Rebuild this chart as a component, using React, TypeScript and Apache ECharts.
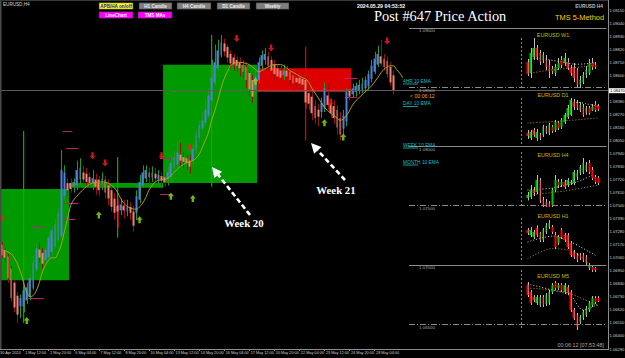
import React, { useEffect, useRef } from "react";
import * as echarts from "echarts";

// ---------- main price scale (values are stored as prices, plotted as price - BASE) ----------
const BASE = 1.0629;
const PRICE_STEP = 0.0011;
const PRICE_SPAN = 0.0294556;
const N_CATS = 195;

// ---------- time axis ----------
const TICK_EVERY = 8;
const TICK_LABELS = [
  "30 Apr 2024", "1 May 12:00", "2 May 20:00", "6 May 04:00", "7 May 12:00", "8 May 20:00",
  "10 May 04:00", "13 May 12:00", "14 May 20:00", "16 May 04:00", "17 May 12:00", "20 May 20:00",
  "22 May 04:00", "23 May 12:00", "24 May 20:00", "28 May 04:00",
];

// ---------- H4 averaged price bars: [open, close, low, high] ----------
const H4_BARS = [
  [1.0718, 1.0713, 1.0711, 1.0721], [1.0717, 1.0708, 1.0706, 1.0719], [1.0712, 1.0706, 1.0702, 1.0714],
  [1.0707, 1.0689, 1.0685, 1.0709], [1.0697, 1.0672, 1.0669, 1.0699], [1.0685, 1.0664, 1.0660, 1.0687],
  [1.0674, 1.0658, 1.0651, 1.0677], [1.0665, 1.0672, 1.0655, 1.0675], [1.0665, 1.0679, 1.0660, 1.0682],
  [1.0670, 1.0681, 1.0667, 1.0685], [1.0673, 1.0689, 1.0670, 1.0692], [1.0680, 1.0702, 1.0679, 1.0708],
  [1.0696, 1.0714, 1.0694, 1.0718], [1.0713, 1.0706, 1.0702, 1.0719], [1.0710, 1.0701, 1.0697, 1.0714],
  [1.0704, 1.0713, 1.0700, 1.0717], [1.0706, 1.0723, 1.0704, 1.0728], [1.0711, 1.0729, 1.0708, 1.0733],
  [1.0716, 1.0734, 1.0714, 1.0739], [1.0721, 1.0744, 1.0719, 1.0748], [1.0724, 1.0780, 1.0723, 1.0797],
  [1.0758, 1.0778, 1.0755, 1.0784], [1.0769, 1.0763, 1.0758, 1.0773], [1.0769, 1.0764, 1.0761, 1.0773],
  [1.0766, 1.0770, 1.0761, 1.0773], [1.0767, 1.0780, 1.0763, 1.0788], [1.0772, 1.0782, 1.0768, 1.0790],
  [1.0778, 1.0772, 1.0767, 1.0784], [1.0777, 1.0770, 1.0766, 1.0782], [1.0774, 1.0769, 1.0765, 1.0778],
  [1.0769, 1.0773, 1.0763, 1.0780], [1.0772, 1.0766, 1.0759, 1.0777], [1.0772, 1.0763, 1.0758, 1.0775],
  [1.0768, 1.0773, 1.0763, 1.0778], [1.0772, 1.0761, 1.0756, 1.0775], [1.0767, 1.0756, 1.0750, 1.0772],
  [1.0763, 1.0749, 1.0745, 1.0767], [1.0756, 1.0744, 1.0738, 1.0761], [1.0750, 1.0745, 1.0731, 1.0756],
  [1.0746, 1.0751, 1.0742, 1.0756], [1.0750, 1.0746, 1.0739, 1.0755], [1.0745, 1.0749, 1.0741, 1.0755],
  [1.0749, 1.0744, 1.0738, 1.0753], [1.0745, 1.0733, 1.0728, 1.0750], [1.0744, 1.0758, 1.0738, 1.0763],
  [1.0755, 1.0770, 1.0752, 1.0776], [1.0767, 1.0778, 1.0765, 1.0784], [1.0773, 1.0780, 1.0770, 1.0784],
  [1.0778, 1.0774, 1.0769, 1.0782], [1.0774, 1.0778, 1.0770, 1.0783], [1.0777, 1.0773, 1.0769, 1.0782],
  [1.0772, 1.0776, 1.0768, 1.0780], [1.0775, 1.0771, 1.0767, 1.0778], [1.0774, 1.0770, 1.0766, 1.0778],
  [1.0772, 1.0778, 1.0767, 1.0783], [1.0774, 1.0786, 1.0770, 1.0793], [1.0782, 1.0791, 1.0778, 1.0797],
  [1.0785, 1.0795, 1.0782, 1.0805], [1.0793, 1.0788, 1.0783, 1.0803], [1.0791, 1.0787, 1.0782, 1.0795],
  [1.0790, 1.0786, 1.0780, 1.0793], [1.0788, 1.0783, 1.0777, 1.0793], [1.0788, 1.0798, 1.0785, 1.0802],
  [1.0797, 1.0810, 1.0795, 1.0814], [1.0807, 1.0818, 1.0804, 1.0822], [1.0815, 1.0822, 1.0812, 1.0829],
  [1.0820, 1.0831, 1.0817, 1.0839], [1.0826, 1.0843, 1.0824, 1.0849], [1.0839, 1.0858, 1.0837, 1.0873],
  [1.0854, 1.0871, 1.0852, 1.0886], [1.0866, 1.0881, 1.0863, 1.0890], [1.0877, 1.0888, 1.0875, 1.0894],
  [1.0887, 1.0880, 1.0876, 1.0891], [1.0884, 1.0875, 1.0871, 1.0886], [1.0878, 1.0870, 1.0866, 1.0881],
  [1.0875, 1.0869, 1.0864, 1.0878], [1.0873, 1.0868, 1.0863, 1.0876], [1.0871, 1.0866, 1.0859, 1.0875],
  [1.0869, 1.0863, 1.0858, 1.0873], [1.0867, 1.0856, 1.0849, 1.0871], [1.0862, 1.0848, 1.0842, 1.0866],
  [1.0856, 1.0842, 1.0837, 1.0860], [1.0848, 1.0859, 1.0844, 1.0864], [1.0856, 1.0871, 1.0853, 1.0875],
  [1.0868, 1.0877, 1.0864, 1.0881], [1.0873, 1.0878, 1.0869, 1.0883], [1.0876, 1.0868, 1.0864, 1.0880],
  [1.0873, 1.0864, 1.0861, 1.0876], [1.0869, 1.0861, 1.0856, 1.0873], [1.0866, 1.0859, 1.0851, 1.0869],
  [1.0864, 1.0858, 1.0854, 1.0868], [1.0860, 1.0864, 1.0856, 1.0869], [1.0864, 1.0859, 1.0854, 1.0868],
  [1.0863, 1.0856, 1.0851, 1.0866], [1.0860, 1.0853, 1.0846, 1.0864], [1.0858, 1.0854, 1.0849, 1.0863],
  [1.0858, 1.0853, 1.0848, 1.0861], [1.0857, 1.0852, 1.0846, 1.0861], [1.0856, 1.0837, 1.0832, 1.0859],
  [1.0845, 1.0836, 1.0831, 1.0848], [1.0842, 1.0828, 1.0822, 1.0846], [1.0834, 1.0824, 1.0819, 1.0839],
  [1.0831, 1.0825, 1.0817, 1.0836], [1.0829, 1.0837, 1.0824, 1.0841], [1.0832, 1.0849, 1.0829, 1.0854],
  [1.0843, 1.0835, 1.0831, 1.0852], [1.0836, 1.0828, 1.0824, 1.0841], [1.0834, 1.0824, 1.0819, 1.0839],
  [1.0831, 1.0816, 1.0810, 1.0835], [1.0824, 1.0810, 1.0805, 1.0829], [1.0815, 1.0826, 1.0810, 1.0831],
  [1.0821, 1.0846, 1.0817, 1.0849], [1.0848, 1.0842, 1.0839, 1.0852], [1.0844, 1.0849, 1.0841, 1.0853],
  [1.0846, 1.0851, 1.0842, 1.0854], [1.0847, 1.0852, 1.0844, 1.0856], [1.0848, 1.0853, 1.0845, 1.0858],
  [1.0849, 1.0856, 1.0846, 1.0859], [1.0851, 1.0861, 1.0848, 1.0864], [1.0857, 1.0868, 1.0854, 1.0873],
  [1.0863, 1.0874, 1.0861, 1.0880], [1.0869, 1.0878, 1.0867, 1.0885], [1.0876, 1.0870, 1.0868, 1.0890],
  [1.0874, 1.0867, 1.0864, 1.0878], [1.0872, 1.0861, 1.0858, 1.0876], [1.0867, 1.0854, 1.0851, 1.0871],
  [1.0860, 1.0847, 1.0844, 1.0864],
];

// ---------- H4 10 EMA (read at bar indices) ----------
const EMA_IDX = [0, 3, 5, 7, 8, 9, 10, 11, 12, 13, 14, 15, 16, 17, 18, 19, 20, 21, 22, 23, 24, 25, 26, 28, 30, 33, 35, 36, 37, 38, 39, 40, 42, 44, 45, 46, 47, 48, 49, 50, 52, 54, 56, 58, 60, 62, 63, 64, 65, 66, 67, 68, 69, 70, 71, 72, 73, 74, 75, 77, 79, 80, 82, 83, 84, 86, 88, 90, 91, 93, 95, 97, 98, 99, 100, 101, 102, 103, 104, 106, 108, 109, 110, 111, 112, 113, 115, 117, 119, 121, 122, 123, 124, 125, 126, 127, 128, 129];
const EMA_VAL = [1.0713, 1.0711, 1.0706, 1.0694, 1.0685, 1.0677, 1.0673, 1.0674, 1.0678, 1.0685, 1.0694, 1.0700, 1.0704, 1.0706, 1.0706, 1.0710, 1.0717, 1.0728, 1.0739, 1.0750, 1.0755, 1.0758, 1.0761, 1.0766, 1.0769, 1.0770, 1.0769, 1.0767, 1.0765, 1.0761, 1.0756, 1.0752, 1.0748, 1.0747, 1.0749, 1.0752, 1.0757, 1.0763, 1.0767, 1.0770, 1.0772, 1.0773, 1.0778, 1.0783, 1.0786, 1.0788, 1.0790, 1.0793, 1.0799, 1.0805, 1.0812, 1.0822, 1.0830, 1.0839, 1.0849, 1.0857, 1.0863, 1.0868, 1.0870, 1.0871, 1.0870, 1.0869, 1.0865, 1.0863, 1.0864, 1.0867, 1.0869, 1.0869, 1.0868, 1.0864, 1.0861, 1.0858, 1.0857, 1.0854, 1.0849, 1.0845, 1.0841, 1.0837, 1.0833, 1.0828, 1.0824, 1.0822, 1.0823, 1.0826, 1.0830, 1.0835, 1.0841, 1.0846, 1.0851, 1.0858, 1.0862, 1.0865, 1.0867, 1.0868, 1.0868, 1.0865, 1.0862, 1.0858];

// ---------- weekly candle bodies overlaid on H4 ----------
const WEEK_START = [0, 23, 53, 83];
const WEEK_END = [22, 52, 82, 112];
const WEEK_WICK_AT = [8, 38, 68, 98];
const WEEK_OPEN = [1.0687, 1.0765, 1.0769, 1.0866];
const WEEK_CLOSE = [1.0764, 1.0769, 1.0869, 1.0846];
const WEEK_HIGH = [1.0813, 1.0791, 1.0894, 1.0884];
const WEEK_LOW = [1.0651, 1.0723, 1.0766, 1.0805];

// ---------- signal arrows ----------
const RED_ARROW_IDX = [1, 30, 34, 52, 61, 76, 87, 106, 124];
const RED_ARROW_PRICE = [1.0739, 1.0792, 1.0786, 1.0792, 1.0799, 1.0891, 1.0883, 1.0837, 1.0889];
const GREEN_ARROW_IDX = [9, 32, 45, 55, 62, 82, 104, 110];
const GREEN_ARROW_PRICE = [1.0653, 1.0742, 1.0738, 1.0758, 1.0756, 1.0855, 1.0820, 1.0808];

// ---------- short level markers ----------
const MARK_START = [21, 22, 21, 22, 11, 10, 52, 52, 111, 111];
const MARK_END = [23, 25, 24, 25, 14, 14, 55, 55, 114, 114];
const MARK_PRICE = [1.0813, 1.0799, 1.0739, 1.0752, 1.0733, 1.0672, 1.0790, 1.0760, 1.0858, 1.0842];

// ---------- levels ----------
const BID = 1.0847;
const HIDDEN_AXIS_LABEL = 1.0849; // covered by the bid tag
const ROUND_LEVELS = [1.09, 1.085, 1.08, 1.075, 1.07, 1.065];
const EMA_TAGS = ["4HR 10 EMA", "DAY 10 EMA", "WEEK 10 EMA", "MONTH 10 EMA"];

// ---------- mini charts ----------
const MINI_TITLES = ["EURUSD W1", "EURUSD D1", "EURUSD H4", "EURUSD H1", "EURUSD M5"];
const MINI_MIN = [1.06, 1.06075, 1.0802, 1.083, 1.0835];
const MINI_MAX = [1.1, 1.09, 1.09, 1.08924, 1.086];
const W1_BARS = [
  [1.0808, 1.0712, 1.0696, 1.0832], [1.0720, 1.0880, 1.0680, 1.0920], [1.0848, 1.0920, 1.0824, 1.1000],
  [1.0920, 1.0848, 1.0824, 1.0944], [1.0880, 1.0808, 1.0784, 1.0904], [1.0824, 1.0864, 1.0800, 1.0888],
  [1.0824, 1.0768, 1.0744, 1.0864], [1.0784, 1.0728, 1.0680, 1.0824], [1.0752, 1.0736, 1.0712, 1.0776],
  [1.0720, 1.0768, 1.0696, 1.0792], [1.0760, 1.0800, 1.0744, 1.0840], [1.0824, 1.0784, 1.0760, 1.0856],
  [1.0800, 1.0840, 1.0776, 1.0880], [1.0808, 1.0760, 1.0744, 1.0840], [1.0760, 1.0720, 1.0696, 1.0784],
  [1.0768, 1.0680, 1.0648, 1.0800], [1.0744, 1.0624, 1.0600, 1.0760], [1.0624, 1.0664, 1.0600, 1.0696],
  [1.0648, 1.0704, 1.0632, 1.0728], [1.0704, 1.0744, 1.0680, 1.0776], [1.0720, 1.0800, 1.0704, 1.0832],
  [1.0800, 1.0768, 1.0744, 1.0840], [1.0784, 1.0768, 1.0752, 1.0808],
];
const D1_BARS = [
  [1.0673, 1.0653, 1.0634, 1.0692], [1.0640, 1.0679, 1.0627, 1.0692], [1.0692, 1.0660, 1.0647, 1.0705],
  [1.0640, 1.0679, 1.0621, 1.0699], [1.0660, 1.0640, 1.0627, 1.0673], [1.0660, 1.0712, 1.0647, 1.0725],
  [1.0705, 1.0679, 1.0666, 1.0718], [1.0673, 1.0725, 1.0660, 1.0738], [1.0712, 1.0686, 1.0673, 1.0725],
  [1.0692, 1.0744, 1.0679, 1.0757], [1.0738, 1.0705, 1.0692, 1.0750], [1.0712, 1.0757, 1.0699, 1.0770],
  [1.0744, 1.0790, 1.0731, 1.0802], [1.0777, 1.0835, 1.0764, 1.0854], [1.0790, 1.0887, 1.0783, 1.0900],
  [1.0874, 1.0842, 1.0822, 1.0893], [1.0868, 1.0835, 1.0822, 1.0887], [1.0822, 1.0855, 1.0809, 1.0874],
  [1.0842, 1.0790, 1.0777, 1.0861], [1.0803, 1.0835, 1.0790, 1.0848], [1.0835, 1.0803, 1.0790, 1.0848],
  [1.0822, 1.0842, 1.0816, 1.0861], [1.0855, 1.0822, 1.0809, 1.0880], [1.0848, 1.0829, 1.0816, 1.0861],
];
const H4M_BARS = [
  [1.0820, 1.0826, 1.0815, 1.0832], [1.0822, 1.0836, 1.0818, 1.0846], [1.0836, 1.0830, 1.0824, 1.0842],
  [1.0832, 1.0856, 1.0828, 1.0866], [1.0856, 1.0816, 1.0810, 1.0860], [1.0816, 1.0806, 1.0802, 1.0822],
  [1.0812, 1.0802, 1.0798, 1.0818], [1.0810, 1.0802, 1.0796, 1.0814], [1.0806, 1.0836, 1.0802, 1.0840],
  [1.0836, 1.0856, 1.0832, 1.0866], [1.0852, 1.0846, 1.0840, 1.0858], [1.0846, 1.0852, 1.0842, 1.0858],
  [1.0852, 1.0842, 1.0838, 1.0856], [1.0846, 1.0856, 1.0842, 1.0860], [1.0850, 1.0852, 1.0846, 1.0856],
  [1.0850, 1.0872, 1.0846, 1.0876], [1.0862, 1.0870, 1.0856, 1.0876], [1.0870, 1.0882, 1.0866, 1.0886],
  [1.0872, 1.0890, 1.0868, 1.0900], [1.0876, 1.0886, 1.0872, 1.0892], [1.0890, 1.0872, 1.0868, 1.0896],
  [1.0876, 1.0860, 1.0856, 1.0882], [1.0862, 1.0852, 1.0848, 1.0866], [1.0860, 1.0850, 1.0846, 1.0864],
];
const H1_BARS = [
  [1.08804, 1.08768, 1.08744, 1.08828], [1.08744, 1.08804, 1.0872, 1.0884], [1.0872, 1.0878, 1.08696, 1.08804],
  [1.08828, 1.08744, 1.0872, 1.0886], [1.08768, 1.08684, 1.0866, 1.0878], [1.08684, 1.08804, 1.0866, 1.08828],
  [1.0878, 1.08864, 1.08756, 1.08888], [1.0884, 1.08888, 1.08816, 1.08924], [1.0884, 1.0878, 1.08756, 1.08864],
  [1.08744, 1.086, 1.08576, 1.0878], [1.08648, 1.0872, 1.08624, 1.08744], [1.08804, 1.0872, 1.08696, 1.08828],
  [1.08744, 1.08684, 1.0866, 1.08768], [1.08744, 1.086, 1.08576, 1.08768], [1.08648, 1.08504, 1.0848, 1.08672],
  [1.0854, 1.0848, 1.08456, 1.08564], [1.08504, 1.08444, 1.0842, 1.08528], [1.08504, 1.08468, 1.08444, 1.08528],
  [1.08504, 1.08444, 1.0842, 1.08528], [1.0848, 1.08408, 1.08384, 1.08504], [1.08348, 1.08384, 1.08324, 1.08408],
  [1.0836, 1.08324, 1.083, 1.08384], [1.08348, 1.08324, 1.083, 1.0836],
];
const M5_BARS = [
  [1.08575, 1.08525, 1.08515, 1.0859], [1.0854, 1.08485, 1.08475, 1.0855], [1.08515, 1.085, 1.0849, 1.08525],
  [1.08485, 1.08515, 1.08475, 1.08525], [1.08475, 1.08515, 1.08465, 1.08525], [1.08515, 1.08475, 1.08465, 1.08525],
  [1.0848, 1.08525, 1.0847, 1.08535], [1.08485, 1.0854, 1.08475, 1.0855], [1.0854, 1.08575, 1.0853, 1.08585],
  [1.08585, 1.0856, 1.0855, 1.08595], [1.0856, 1.08575, 1.0855, 1.08585], [1.08575, 1.0855, 1.0854, 1.08585],
  [1.0854, 1.08575, 1.0853, 1.08585], [1.08565, 1.08535, 1.08525, 1.08575], [1.0854, 1.0845, 1.0844, 1.0855],
  [1.0845, 1.0841, 1.084, 1.0846], [1.08425, 1.08365, 1.0835, 1.08435], [1.0839, 1.08415, 1.0838, 1.08425],
  [1.0841, 1.0844, 1.084, 1.0845], [1.08425, 1.0846, 1.08415, 1.0847], [1.0845, 1.08485, 1.0844, 1.08495],
  [1.08475, 1.0851, 1.08465, 1.0852], [1.0851, 1.0849, 1.0848, 1.0852], [1.0851, 1.08495, 1.0849, 1.0852],
];
const MINI_BARS = [W1_BARS, D1_BARS, H4M_BARS, H1_BARS, M5_BARS];
// dotted moving averages in the mini charts: [index, price]
const MINI_MA_WHITE = [
  [[1, 1.0840], [6, 1.0830], [11, 1.0808], [16, 1.0790], [22, 1.0800]],
  [[13, 1.0850], [16, 1.0872], [19, 1.0862], [23, 1.0846]],
  [[0, 1.0836], [8, 1.0840], [16, 1.0852], [21, 1.0866]],
  [[0, 1.0866], [8, 1.0873], [14, 1.0866], [22, 1.0850]],
  [[0, 1.0858], [8, 1.0855], [14, 1.0852], [18, 1.0845], [23, 1.0848]],
];
const MINI_MA_ORANGE = [
  [[1, 1.0720], [8, 1.0745], [15, 1.0762], [22, 1.0784]],
  [[0, 1.0737], [12, 1.0752], [23, 1.0770]],
  [[1, 1.0826], [12, 1.0834], [23, 1.0846]],
  [[0, 1.0846], [8, 1.0858], [15, 1.0854], [22, 1.0832]],
  [[0, 1.0856], [12, 1.0854], [23, 1.0847]],
];

// ---------- styles ----------
const SANS = "'Liberation Sans', Arial, sans-serif";
const SERIF = "'Liberation Serif', 'Times New Roman', serif";
const BULL = "#4d7fdc";
const BEAR = "#f5806e";
const ARROW_DOWN = "path://M3,0L7,0L7,5L10,5L5,10L0,5L3,5Z";
const ARROW_UP = "path://M5,0L10,5L7,5L7,10L3,10L3,5L0,5Z";
const MINI_TOP = [38, 98, 158, 220, 280];
const MINI_H = [50, 45, 49, 52, 50];

function wickSeries(bars: number[][], axis: number, off: number, up: string, down: string, z: number) {
  return {
    type: "custom", xAxisIndex: axis, yAxisIndex: axis, z, silent: true, clip: true,
    data: bars.map((b, i) => [i, b[0] - off, b[1] - off, b[2] - off, b[3] - off]),
    encode: { x: 0, y: [1, 2, 3, 4] },
    renderItem: (_p: any, api: any) => {
      const i = api.value(0);
      const o = api.value(1), c = api.value(2);
      const top = api.coord([i, api.value(4)]);
      const bot = api.coord([i, api.value(3)]);
      const x = Math.round(top[0]) + 0.5;
      return { type: "line", shape: { x1: x, y1: top[1], x2: x, y2: bot[1] }, style: { stroke: c >= o ? up : down, lineWidth: 1 } };
    },
  };
}

function bodySeries(bars: number[][], axis: number, off: number, up: string, down: string, width: number, z: number) {
  return {
    type: "candlestick", xAxisIndex: axis, yAxisIndex: axis, z, silent: true, barWidth: width,
    data: bars.map((b) => [b[0] - off, b[1] - off, Math.min(b[0], b[1]) - off, Math.max(b[0], b[1]) - off]),
    itemStyle: { color: up, color0: down, borderColor: up, borderColor0: down, borderWidth: 0 },
  };
}

function buildOption() {
  const cats = Array.from({ length: N_CATS }, (_, i) => String(i));
  const miniCats = Array.from({ length: 24 }, (_, i) => String(i));
  const showTick = (i: number) => i % TICK_EVERY === 0 && i / TICK_EVERY < TICK_LABELS.length;

  const grid: any[] = [{ left: -3, right: 17, top: 0, bottom: 9, outerBoundsMode: "none" }];
  const xAxis: any[] = [{
    type: "category", gridIndex: 0, data: cats, boundaryGap: true,
    axisLine: { lineStyle: { color: "#8c8c8c", width: 1 } },
    axisTick: { show: true, alignWithLabel: true, interval: (i: number) => showTick(i), length: 2, lineStyle: { color: "#8c8c8c" } },
    axisLabel: {
      interval: (i: number) => showTick(i), formatter: (_v: string, i: number) => TICK_LABELS[i / TICK_EVERY] || "",
      fontSize: 3.8, color: "#cfcfcf", align: "left", margin: 2, padding: [0, 0, 0, 1.5], fontFamily: SANS,
    },
    splitLine: { show: false },
  }];
  const yAxis: any[] = [{
    type: "value", gridIndex: 0, position: "right", min: 0, max: PRICE_SPAN, interval: PRICE_STEP,
    axisLine: { show: true, lineStyle: { color: "#8c8c8c" } },
    axisTick: { show: true, length: 1, lineStyle: { color: "#8c8c8c" } },
    axisLabel: {
      formatter: (v: number) => {
        const p = v + BASE;
        return Math.abs(p - HIDDEN_AXIS_LABEL) < 1e-6 ? "" : p.toFixed(5);
      },
      fontSize: 4.1, color: "#cfcfcf", margin: 1.5, showMaxLabel: false, fontFamily: SANS,
    },
    splitLine: { show: false },
  }];
  MINI_TOP.forEach((t, k) => {
    grid.push({ left: 526, width: 74, top: t, height: MINI_H[k], outerBoundsMode: "none" });
    xAxis.push({ type: "category", gridIndex: k + 1, data: miniCats, show: false, boundaryGap: true });
    yAxis.push({ type: "value", gridIndex: k + 1, min: MINI_MIN[k], max: MINI_MAX[k], show: false, splitLine: { show: false } });
  });

  const series: any[] = [];
  // weekly bodies
  series.push({
    type: "custom", xAxisIndex: 0, yAxisIndex: 0, z: 1, silent: true, clip: true,
    data: WEEK_START.map((s, k) => [s, WEEK_END[k], WEEK_OPEN[k] - BASE, WEEK_CLOSE[k] - BASE, WEEK_HIGH[k] - BASE, WEEK_LOW[k] - BASE, WEEK_WICK_AT[k]]),
    encode: { x: [0, 1], y: [2, 3, 4, 5] },
    renderItem: (_p: any, api: any) => {
      const s = api.value(0), e = api.value(1), o = api.value(2), c = api.value(3);
      const bw = api.size([1, 0])[0];
      const a = api.coord([s, o]);
      const b = api.coord([e, c]);
      const x0 = a[0] - bw / 2, x1 = b[0] + bw / 2;
      const bull = c >= o;
      const wt = api.coord([api.value(6), api.value(4)]);
      const wb = api.coord([api.value(6), api.value(5)]);
      return {
        type: "group", children: [
          { type: "rect", shape: { x: x0, y: Math.min(a[1], b[1]), width: x1 - x0, height: Math.max(2, Math.abs(a[1] - b[1])) }, style: { fill: bull ? "#009a00" : "#dc0000" } },
          { type: "line", shape: { x1: wt[0], y1: wt[1], x2: wb[0], y2: wb[1] }, style: { stroke: bull ? "#00b400" : "#e80000", lineWidth: 1.2 } },
        ],
      };
    },
  });
  // level markers
  series.push({
    type: "custom", xAxisIndex: 0, yAxisIndex: 0, z: 2, silent: true, clip: true,
    data: MARK_START.map((s, k) => [s, MARK_END[k], MARK_PRICE[k] - BASE]),
    encode: { x: [0, 1], y: 2 },
    renderItem: (_p: any, api: any) => {
      const bw = api.size([1, 0])[0];
      const a = api.coord([api.value(0), api.value(2)]);
      const b = api.coord([api.value(1), api.value(2)]);
      const y = Math.round(a[1]) + 0.5;
      return { type: "line", shape: { x1: a[0] - bw / 2, y1: y, x2: b[0] + bw / 2, y2: y }, style: { stroke: "#b8206a", lineWidth: 1 } };
    },
  });
  series.push(wickSeries(H4_BARS, 0, BASE, "#1f9a1f", "#9a1010", 3));
  series.push(bodySeries(H4_BARS, 0, BASE, BULL, BEAR, 2.3, 4));

  const roundLines = ROUND_LEVELS.map((v, k) => [
    {
      coord: [131, v - BASE],
      lineStyle: { color: "#8a8a8a", width: 1, type: k % 2 === 0 ? "solid" : [6, 2, 1, 2] },
      label: { show: true, position: "insideStartBottom", formatter: v.toFixed(5), fontSize: 4.4, color: "#a8a8a8", padding: [0, 0, 0, 9], distance: 1, fontFamily: SANS },
    },
    { coord: [194, v - BASE] },
  ]);
  series.push({
    type: "line", xAxisIndex: 0, yAxisIndex: 0, z: 5, silent: true, smooth: 0.4, symbol: "none",
    data: EMA_IDX.map((i, k) => [i, EMA_VAL[k] - BASE]),
    lineStyle: { color: "#aaa31e", width: 1 },
    markLine: {
      silent: true, symbol: ["none", "none"], animation: false, precision: 8,
      data: [
        {
          yAxis: BID - BASE, lineStyle: { color: "#5c5c5c", width: 1, type: "solid" },
          label: { show: true, position: "end", formatter: BID.toFixed(5), backgroundColor: "#ffffff", color: "#000000", fontSize: 4.1, padding: [1, 1, 0, 1], distance: 1, fontFamily: SANS },
        },
        ...roundLines,
      ],
    },
  });
  series.push({
    type: "scatter", xAxisIndex: 0, yAxisIndex: 0, z: 6, silent: true, symbol: ARROW_DOWN, symbolSize: [6, 7],
    data: RED_ARROW_IDX.map((i, k) => [i, RED_ARROW_PRICE[k] - BASE]), itemStyle: { color: "#ff1c1c" },
  });
  series.push({
    type: "scatter", xAxisIndex: 0, yAxisIndex: 0, z: 6, silent: true, symbol: ARROW_UP, symbolSize: [6, 7],
    data: GREEN_ARROW_IDX.map((i, k) => [i, GREEN_ARROW_PRICE[k] - BASE]), itemStyle: { color: "#86e21e" },
  });

  MINI_BARS.forEach((bars, k) => {
    const ax = k + 1;
    series.push({
      type: "line", xAxisIndex: ax, yAxisIndex: ax, z: 2, silent: true, smooth: 0.3, symbol: "none",
      data: MINI_MA_ORANGE[k], lineStyle: { color: "#c89020", width: 1, type: [1, 2] },
    });
    series.push({
      type: "line", xAxisIndex: ax, yAxisIndex: ax, z: 2, silent: true, smooth: 0.3, symbol: "none",
      data: MINI_MA_WHITE[k], lineStyle: { color: "#d8d8d8", width: 1, type: [1, 2] },
    });
    series.push(wickSeries(bars, ax, 0, "#bdbdbd", "#bdbdbd", 3));
    series.push(bodySeries(bars, ax, 0, "#00c400", "#ff0000", 2.2, 4));
  });

  const txt = (text: string, x: number, y: number, size: number, fill: string, opts: any = {}) => ({
    type: "text", silent: true, z: 50,
    style: {
      text, x, y, fill, font: `${opts.bold ? "bold " : ""}${size}px ${opts.family || SANS}`,
      textAlign: opts.align || "left", align: opts.align || "left",
      textVerticalAlign: opts.valign || "middle", verticalAlign: opts.valign || "middle",
    },
  });
  const button = (label: string, x: number, y: number, w: number, bg: string, fg: string) => ({
    type: "group", silent: true, z: 50,
    children: [
      { type: "rect", shape: { x, y, width: w, height: 6.6 }, style: { fill: bg, stroke: "#2a2a2a", lineWidth: 0.6 } },
      { type: "text", style: { text: label, x: x + w / 2, y: y + 3.5, fill: fg, font: `bold 4.6px ${SANS}`, textAlign: "center", align: "center", textVerticalAlign: "middle", verticalAlign: "middle" } },
    ],
  });
  const dashedArrow = (tail: number[], tip: number[]) => {
    const dx = tip[0] - tail[0], dy = tip[1] - tail[1];
    const len = Math.hypot(dx, dy);
    const ux = dx / len, uy = dy / len;
    const bx = tip[0] - ux * 10, by = tip[1] - uy * 10;
    const nx = -uy, ny = ux;
    return [
      { type: "line", silent: true, z: 50, shape: { x1: tail[0], y1: tail[1], x2: bx, y2: by }, style: { stroke: "#ffffff", lineWidth: 2.6, lineDash: [5, 3] } },
      { type: "polygon", silent: true, z: 50, shape: { points: [tip, [bx + nx * 5, by + ny * 5], [bx - nx * 5, by - ny * 5]] }, style: { fill: "#ffffff" } },
    ];
  };

  const graphic: any[] = [
    { type: "rect", silent: true, z: 40, shape: { x: 0, y: 0, width: 1.5, height: 349 }, style: { fill: "#4a4a4a" } },
    { type: "rect", silent: true, z: 40, shape: { x: 0, y: 0, width: 608, height: 1 }, style: { fill: "#3a3a3a" } },
    txt("EURUSD,H4", 3, 4.5, 4.6, "#d8d8d8"),
    button("APB/HA on/off", 99, 2.7, 34, "#ffff00", "#1010d0"),
    button("H1 Candle", 139, 2.7, 33, "#7f7f7f", "#eeeeee"),
    button("H4 Candle", 177, 2.7, 34, "#7f7f7f", "#eeeeee"),
    button("D1 Candle", 217, 2.7, 33, "#7f7f7f", "#eeeeee"),
    button("Weekly", 256, 2.7, 33, "#7f7f7f", "#eeeeee"),
    button("LineChart", 99, 11.7, 34, "#ff00ff", "#ffffff"),
    button("TMS MAs", 138, 11.7, 34, "#ff00ff", "#ffffff"),
    txt("2024.05.29 04:53:52", 357, 5.5, 5.2, "#ffffff", { bold: true }),
    txt("Post #647 Price Action", 374, 15.5, 14.4, "#ffffff", { family: SERIF }),
    txt("EURUSD H4", 603, 6, 4.8, "#bdbdbd", { bold: true, align: "right" }),
    txt("TMS 5-Method", 604, 17, 7.4, "#ffd000", { align: "right" }),
    txt("Week 20", 244, 223, 10.8, "#ffffff", { bold: true, family: SERIF, align: "center" }),
    txt("Week 21", 336, 190, 10.8, "#ffffff", { bold: true, family: SERIF, align: "center" }),
    ...dashedArrow([250, 215], [212, 167]),
    ...dashedArrow([345, 180], [311, 143]),
    txt("< 00:06:12", 410, 95.5, 5.2, "#ff9a1a"),
    txt("00:06:12 [07:53:48]", 604, 345, 5.4, "#a8a8a8", { align: "right" }),
  ];
  const tagY = [81, 103.5, 145, 162];
  EMA_TAGS.forEach((t, k) => {
    graphic.push(txt(t, 403, tagY[k], 4.8, "#1fbfc0"));
    graphic.push({ type: "line", silent: true, z: 50, shape: { x1: 403, y1: tagY[k] + 3, x2: 418, y2: tagY[k] + 3 }, style: { stroke: "#1fbfc0", lineWidth: 0.8 } });
  });
  const vSeg = [[38, 88], [98, 145], [152, 207], [218, 262], [270, 328]];
  vSeg.forEach((s) => graphic.push({ type: "line", silent: true, z: 45, shape: { x1: 521.5, y1: s[0], x2: 521.5, y2: s[1] }, style: { stroke: "#8a8a8a", lineWidth: 1, lineDash: [2, 2] } }));
  const titleY = [35, 95, 155, 216, 276];
  MINI_TITLES.forEach((t, k) => graphic.push(txt(t, 553, titleY[k], 5.4, "#c8b800", { align: "center" })));

  return {
    backgroundColor: "#000000",
    animation: false,
    grid, xAxis, yAxis, series, graphic,
  };
}

export default function App() {
  const ref = useRef<HTMLDivElement>(null);
  useEffect(() => {
    if (!ref.current) return;
    const chart = echarts.init(ref.current, null, { renderer: "svg", width: 625, height: 358 });
    chart.setOption(buildOption() as any);
    return () => chart.dispose();
  }, []);
  return <div ref={ref} style={{ position: "fixed", left: 0, top: 0, width: 625, height: 358, background: "#000" }} />;
}
